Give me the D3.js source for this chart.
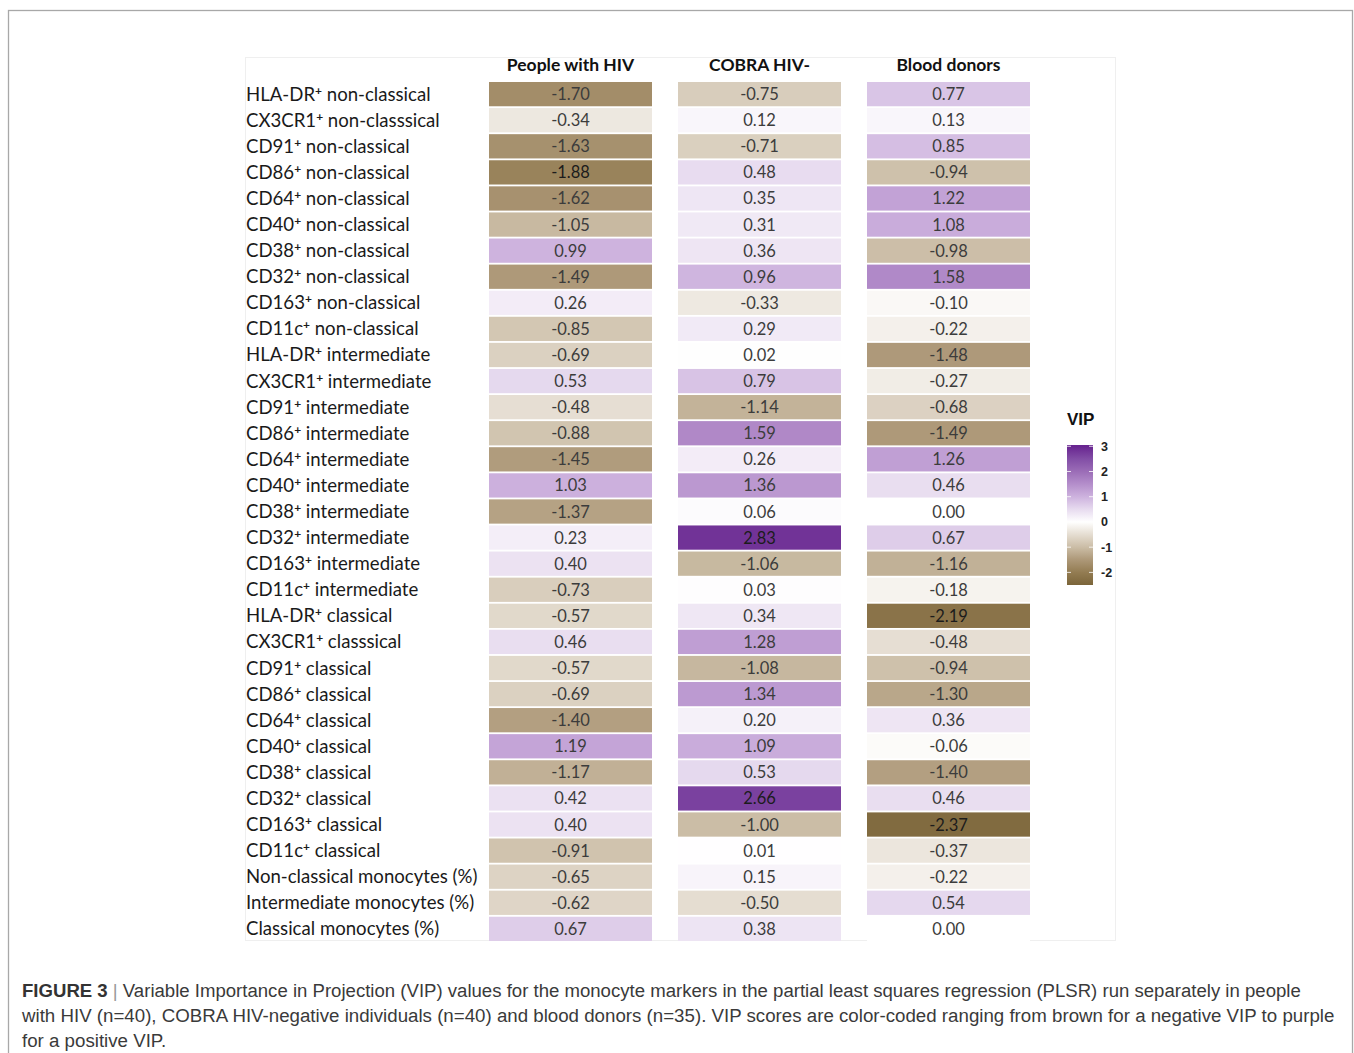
<!DOCTYPE html>
<html>
<head>
<meta charset="utf-8">
<script src="https://cdn.jsdelivr.net/npm/d3@7"></script>
<style>
  html, body { margin: 0; padding: 0; background: #fff; }
  svg { display: block; }
</style>
</head>
<body>
<svg id="fig" width="1354" height="1053"></svg>
<script>
// Monocyte markers (rows), in display order
const markers = [
  "HLA-DR⁺ non-classical", "CX3CR1⁺ non-classsical", "CD91⁺ non-classical",
  "CD86⁺ non-classical", "CD64⁺ non-classical", "CD40⁺ non-classical",
  "CD38⁺ non-classical", "CD32⁺ non-classical", "CD163⁺ non-classical",
  "CD11c⁺ non-classical",
  "HLA-DR⁺ intermediate", "CX3CR1⁺ intermediate", "CD91⁺ intermediate",
  "CD86⁺ intermediate", "CD64⁺ intermediate", "CD40⁺ intermediate",
  "CD38⁺ intermediate", "CD32⁺ intermediate", "CD163⁺ intermediate",
  "CD11c⁺ intermediate",
  "HLA-DR⁺ classical", "CX3CR1⁺ classsical", "CD91⁺ classical",
  "CD86⁺ classical", "CD64⁺ classical", "CD40⁺ classical",
  "CD38⁺ classical", "CD32⁺ classical", "CD163⁺ classical",
  "CD11c⁺ classical",
  "Non-classical monocytes (%)", "Intermediate monocytes (%)", "Classical monocytes (%)"
];

// Cohorts (columns)
const cohorts = ["People with HIV", "COBRA HIV-", "Blood donors"];

// VIP values per cohort, same order as markers
const vipHIV = [
  -1.70, -0.34, -1.63, -1.88, -1.62, -1.05, 0.99, -1.49, 0.26, -0.85,
  -0.69, 0.53, -0.48, -0.88, -1.45, 1.03, -1.37, 0.23, 0.40, -0.73,
  -0.57, 0.46, -0.57, -0.69, -1.40, 1.19, -1.17, 0.42, 0.40, -0.91,
  -0.65, -0.62, 0.67
];
const vipCOBRA = [
  -0.75, 0.12, -0.71, 0.48, 0.35, 0.31, 0.36, 0.96, -0.33, 0.29,
  0.02, 0.79, -1.14, 1.59, 0.26, 1.36, 0.06, 2.83, -1.06, 0.03,
  0.34, 1.28, -1.08, 1.34, 0.20, 1.09, 0.53, 2.66, -1.00, 0.01,
  0.15, -0.50, 0.38
];
const vipDonors = [
  0.77, 0.13, 0.85, -0.94, 1.22, 1.08, -0.98, 1.58, -0.10, -0.22,
  -1.48, -0.27, -0.68, -1.49, 1.26, 0.46, 0.00, 0.67, -1.16, -0.18,
  -2.19, -0.48, -0.94, -1.30, 0.36, -0.06, -1.40, 0.46, -2.37, -0.37,
  -0.22, 0.54, 0.00
];

// Colour-bar ticks
const legendTicks = [3, 2, 1, 0, -1, -2];

// Diverging palette: brown (negative) through white to purple (positive)
const paletteStops = [-2.5, -2, -1.5, -1, -0.5, 0, 0.5, 1, 1.5, 2, 2.5, 3];
const paletteColors = ["#7b653a", "#937c52", "#ad9878", "#cbbda6", "#e5ddd1", "#ffffff",
                       "#e7dbef", "#cdb2de", "#b48ecb", "#9b6db7", "#824ea6", "#682590"];

const columns = [vipHIV, vipCOBRA, vipDonors];
const cells = [];
markers.forEach((m, i) => {
  cohorts.forEach((c, j) => cells.push({ marker: m, cohort: c, value: columns[j][i] }));
});

const svg = d3.select("#fig");
const color = d3.scaleLinear().domain(paletteStops).range(paletteColors).clamp(true);

// Figure frame
svg.append("rect").attr("x", 8.5).attr("y", 10.5).attr("width", 1344).attr("height", 1050)
  .attr("fill", "none").attr("stroke", "#a8a8a8").attr("stroke-width", 1.3);

// Faint table frame
svg.append("rect").attr("x", 245.5).attr("y", 57.5).attr("width", 870).attr("height", 883)
  .attr("fill", "none").attr("stroke", "#efefef").attr("stroke-width", 1);

const x = d3.scaleBand().domain(cohorts).range([489, 1030]).paddingInner(0.1376);
const y = d3.scaleBand().domain(markers).range([82, 941]).paddingInner(0.07);

const FONT = "Lato, 'Open Sans', sans-serif";

// Column headers
svg.append("g").selectAll("text").data(cohorts).join("text")
  .attr("x", d => x(d) + x.bandwidth() / 2)
  .attr("y", 71)
  .attr("text-anchor", "middle")
  .attr("font-family", FONT).attr("font-weight", 700).attr("font-size", 17.5)
  .attr("fill", "#111")
  .text(d => d);

// Row labels, with the "+" drawn as a raised small glyph
const labels = svg.append("g").selectAll("text").data(markers).join("text")
  .attr("x", 246)
  .attr("y", d => y(d) + y.bandwidth() / 2 + 6.5)
  .attr("font-family", FONT).attr("font-size", 18.6)
  .attr("fill", "#1a1a1a");
labels.each(function (d) {
  const t = d3.select(this);
  const parts = d.split("⁺");
  if (parts.length === 1) { t.text(d); return; }
  t.append("tspan").text(parts[0]);
  t.append("tspan").attr("font-size", 12).attr("dy", -6).attr("font-weight", 700).text("+");
  t.append("tspan").attr("dy", 6).text(parts[1]);
});

// Heat-map cells
const g = svg.append("g");
g.selectAll("rect").data(cells).join("rect")
  .attr("x", d => x(d.cohort))
  .attr("y", d => y(d.marker))
  .attr("width", x.bandwidth())
  .attr("height", y.bandwidth())
  .attr("fill", d => color(d.value));

g.selectAll("text").data(cells).join("text")
  .attr("x", d => x(d.cohort) + x.bandwidth() / 2)
  .attr("y", d => y(d.marker) + y.bandwidth() / 2 + 6)
  .attr("text-anchor", "middle")
  .attr("font-family", FONT).attr("font-size", 16.5)
  .attr("fill", d => Math.abs(d.value) > 1.8 ? "#1c1c1c" : "#3c3c3c")
  .text(d => d.value.toFixed(2));

// Colour legend
const lg = svg.append("g");
lg.append("text").attr("x", 1067).attr("y", 425)
  .attr("font-family", "'Liberation Sans', Arial, sans-serif").attr("font-weight", 700)
  .attr("font-size", 17).attr("fill", "#111").text("VIP");

const ly = d3.scaleLinear().domain([-2.5, 3.05]).range([585, 445]);
const grad = svg.append("defs").append("linearGradient")
  .attr("id", "vipGrad").attr("x1", 0).attr("y1", 1).attr("x2", 0).attr("y2", 0);
paletteStops.forEach((s, i) => {
  grad.append("stop")
    .attr("offset", (s - ly.domain()[0]) / (ly.domain()[1] - ly.domain()[0]))
    .attr("stop-color", paletteColors[i]);
});
lg.append("rect").attr("x", 1067).attr("y", ly(3.05)).attr("width", 26)
  .attr("height", ly(-2.5) - ly(3.05)).attr("fill", "url(#vipGrad)");

legendTicks.forEach(t => {
  lg.append("line").attr("x1", 1067).attr("x2", 1071).attr("y1", ly(t)).attr("y2", ly(t))
    .attr("stroke", "#fff").attr("stroke-width", 1).attr("opacity", 0.8);
  lg.append("line").attr("x1", 1089).attr("x2", 1093).attr("y1", ly(t)).attr("y2", ly(t))
    .attr("stroke", "#fff").attr("stroke-width", 1).attr("opacity", 0.8);
});
lg.selectAll("text.tick").data(legendTicks).join("text").attr("class", "tick")
  .attr("x", 1101).attr("y", d => ly(d) + 4.5)
  .attr("font-family", "'Liberation Sans', Arial, sans-serif").attr("font-weight", 700)
  .attr("font-size", 12.5).attr("fill", "#222")
  .text(d => d);

// Caption, horizontally condensed to fit the frame
const CAP = "'Liberation Sans', Arial, sans-serif";
const cap = svg.append("g").attr("font-family", CAP).attr("font-size", 19).attr("fill", "#3a3a3a");
const l1 = cap.append("text").attr("x", 0).attr("y", 997);
l1.append("tspan").attr("font-weight", 700).attr("fill", "#333").text("FIGURE 3");
l1.append("tspan").attr("fill", "#999").text(" | ");
l1.append("tspan").text("Variable Importance in Projection (VIP) values for the monocyte markers in the partial least squares regression (PLSR) run separately in people");
const l2 = cap.append("text").attr("x", 0).attr("y", 1022)
  .text("with HIV (n=40), COBRA HIV-negative individuals (n=40) and blood donors (n=35). VIP scores are color-coded ranging from brown for a negative VIP to purple");
const l3 = cap.append("text").attr("x", 0).attr("y", 1047).text("for a positive VIP.");

const s1 = 1280 / l1.node().getComputedTextLength();
const s2 = 1313 / l2.node().getComputedTextLength();
l1.attr("transform", `translate(22,0) scale(${s1},1)`);
l2.attr("transform", `translate(22,0) scale(${s2},1)`);
l3.attr("transform", `translate(22,0) scale(${s2},1)`);
</script>
</body>
</html>
